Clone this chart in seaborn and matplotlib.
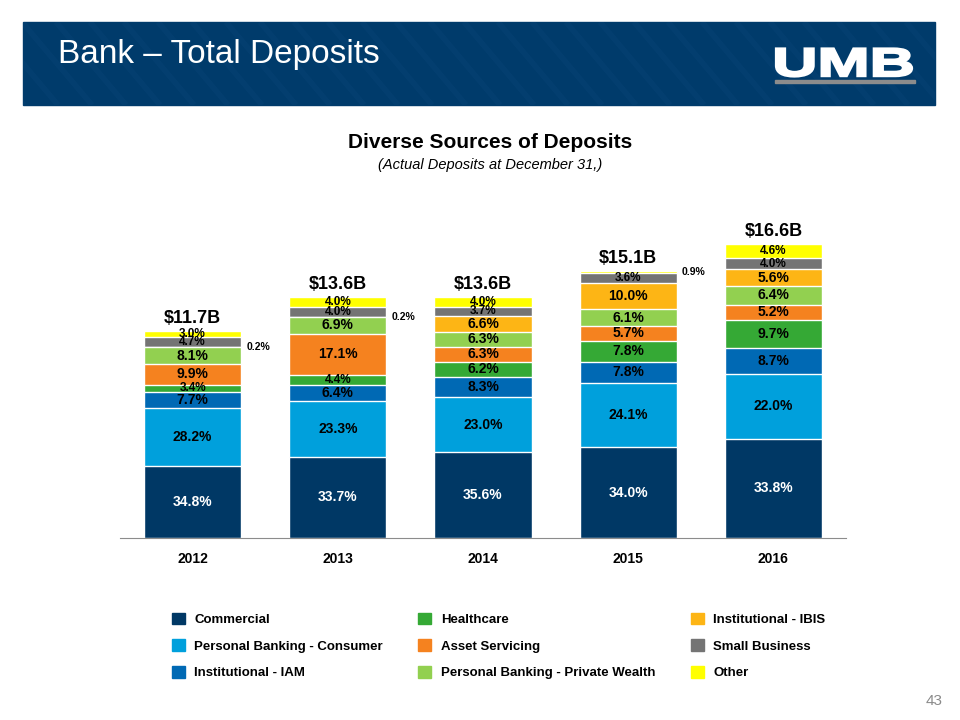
import matplotlib.pyplot as plt
import pandas as pd
import seaborn as sns
from matplotlib.patches import Rectangle, Patch, PathPatch
from matplotlib.textpath import TextPath
from matplotlib.font_manager import FontProperties
from matplotlib.transforms import Affine2D

years = ['2012', '2013', '2014', '2015', '2016']
totals = [11.7, 13.6, 13.6, 15.1, 16.6]
segments = ['Commercial', 'Personal Banking - Consumer', 'Institutional - IAM',
            'Healthcare', 'Asset Servicing', 'Personal Banking - Private Wealth',
            'Institutional - IBIS', 'Small Business', 'Other']
commercial = [34.8, 33.7, 35.6, 34.0, 33.8]
consumer = [28.2, 23.3, 23.0, 24.1, 22.0]
iam = [7.7, 6.4, 8.3, 7.8, 8.7]
healthcare = [3.4, 4.4, 6.2, 7.8, 9.7]
asset_servicing = [9.9, 17.1, 6.3, 5.7, 5.2]
private_wealth = [8.1, 6.9, 6.3, 6.1, 6.4]
ibis = [0.2, 0.2, 6.6, 10.0, 5.6]
small_business = [4.7, 4.0, 3.7, 3.6, 4.0]
other = [3.0, 4.0, 4.0, 0.9, 4.6]
series = [commercial, consumer, iam, healthcare, asset_servicing,
          private_wealth, ibis, small_business, other]
colors = ['#003865', '#00a0dc', '#0069b4', '#35a935', '#f5821f',
          '#92d050', '#fdb515', '#747474', '#ffff00']

sns.set_style('white')
plt.rcParams['font.family'] = ['Liberation Sans', 'DejaVu Sans']
plt.rcParams['text.color'] = 'black'
plt.rcParams['xtick.color'] = 'black'

# long table: one row per year/segment with stacked bottom and top in $B
rows = []
for year, total, pcts in zip(years, totals, zip(*series)):
    cum = 0
    for seg, p in zip(segments, pcts):
        bottom = cum * total / 100
        cum += p
        rows.append(dict(year=year, segment=seg, pct=p, bottom=bottom, top=cum * total / 100))
df = pd.DataFrame(rows)

fig = plt.figure(figsize=(9.6, 7.2), dpi=100)

# page decoration in pixel coordinates
ov = fig.add_axes([0, 0, 1, 1])
ov.set_xlim(0, 960)
ov.set_ylim(720, 0)
ov.axis('off')
banner = Rectangle((23, 22), 912, 83, color='#003b6b', zorder=1)
ov.add_patch(banner)
for x0 in range(-80, 960, 34):
    ln, = ov.plot([x0, x0 + 70], [22, 105], color='#0b4679', lw=4, alpha=0.35,
                  solid_capstyle='butt', zorder=1.5)
    ln.set_clip_path(banner)
ov.text(58, 55, 'Bank \u2013 Total Deposits', color='white', fontsize=24,
        va='center', ha='left', zorder=5)
tp = TextPath((0, 0), 'UMB', size=1, prop=FontProperties(family='Liberation Sans', weight='bold'))
ext = tp.get_extents()
tr = Affine2D().translate(-ext.x0, -ext.y0).scale(136 / ext.width, -28 / ext.height).translate(776, 76.5)
ov.add_patch(PathPatch(tr.transform_path(tp), fc='white', ec='white', lw=1.6, zorder=5))
ov.add_patch(Rectangle((775, 80), 140, 2.5, color='#8c8c8c', zorder=5))
ov.text(490, 143, 'Diverse Sources of Deposits', fontsize=15, fontweight='bold',
        ha='center', va='center')
ov.text(490, 165, '(Actual Deposits at December 31,)', fontsize=10.5, style='italic',
        ha='center', va='center')
ov.text(943, 701, '43', fontsize=11, color='#8a8a8a', ha='right', va='center')

# chart
ax = fig.add_axes([120 / 960, 1 - 538 / 720, 726 / 960, 318.6 / 720])
ax.patch.set_alpha(0)
for seg, color in reversed(list(zip(segments, colors))):
    sns.barplot(data=df[df.segment == seg], x='year', y='top', order=years,
                color=color, saturation=1, width=0.67, errorbar=None, ax=ax)

for _, r in df.iterrows():
    i = years.index(r.year)
    mid = (r.bottom + r.top) / 2
    if r.pct < 1:
        ax.text(i + 0.37, mid, f'{r.pct:.1f}%', fontsize=7.5, fontweight='bold',
                ha='left', va='center')
    else:
        ax.text(i, mid, f'{r.pct:.1f}%', fontsize=10 if r.pct >= 5 else 8.5,
                fontweight='bold', ha='center', va='center',
                color='white' if r.segment == 'Commercial' else 'black')

for i, t in enumerate(totals):
    ax.annotate(f'${t}B', (i, t), xytext=(0, 3), textcoords='offset points',
                ha='center', va='bottom', fontsize=13, fontweight='bold')

ax.set_xlim(-0.5, 4.5)
ax.set_ylim(0, 18)
ax.set_xlabel('')
ax.set_ylabel('')
ax.set_yticks([])
sns.despine(ax=ax, left=True)
ax.spines['bottom'].set_color('#8c8c8c')
ax.set_xticks([-0.5, 0.5, 1.5, 2.5, 3.5, 4.5], minor=True)
ax.tick_params(axis='x', which='major', length=0, pad=10, labelsize=10)
ax.tick_params(axis='x', which='minor', length=4, color='#8c8c8c', direction='out')
for lbl in ax.get_xticklabels():
    lbl.set_fontweight('bold')

handles = [Patch(color=c, label=s) for s, c in zip(segments, colors)]
fig.legend(handles=handles, loc='upper left', bbox_to_anchor=(165 / 960, 1 - 606 / 720),
           ncol=3, frameon=False, borderpad=0, handlelength=1.0, handleheight=1.0,
           handletextpad=0.7, labelspacing=1.0, columnspacing=2.7,
           prop=dict(weight='bold', size=9.5))

fig.savefig('out.png', dpi=100)
